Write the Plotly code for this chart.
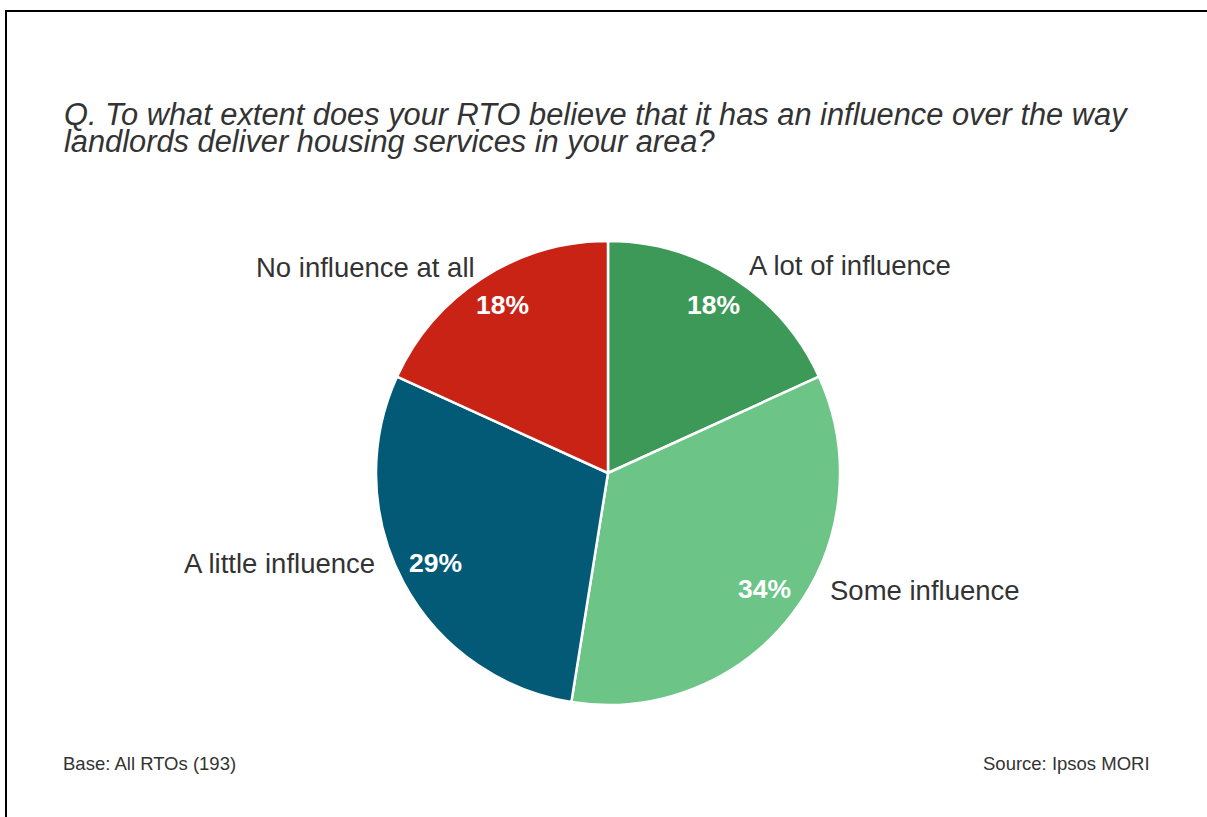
import math
import plotly.graph_objects as go

categories = ["A lot of influence", "Some influence", "A little influence", "No influence at all"]
values = [18, 34, 29, 18]
colors = ["#3d9958", "#6cc487", "#035a77", "#c92316"]

W, H = 1207, 817
title_lines = [
    "Q. To what extent does your RTO believe that it has an influence over the way",
    "landlords deliver housing services in your area?",
]
base_text = "Base: All RTOs (193)"
source_text = "Source: Ipsos MORI"

# pie geometry (pixels)
cx, cy, R = 608, 473, 232

FONT = "Liberation Sans, Arial, sans-serif"

def px(x):
    return x / W

def py(y):
    return 1 - y / H

fig = go.Figure()
fig.add_trace(go.Pie(
    labels=categories,
    values=values,
    sort=False,
    direction="clockwise",
    rotation=0,
    marker=dict(colors=colors, line=dict(color="white", width=2.5)),
    textinfo="none",
    hoverinfo="label+value",
    showlegend=False,
    domain=dict(x=[px(cx - R), px(cx + R)], y=[py(cy + R), py(cy - R)]),
))

annotations = []
# percentage labels placed at mid-angle of each slice
total = sum(values)
cum = 0
for v in values:
    mid = (cum + v / 2) / total * 2 * math.pi
    cum += v
    r = 0.845 * R
    x = cx + r * math.sin(mid)
    y = cy - r * math.cos(mid) - 3
    annotations.append(dict(
        x=px(x), y=py(y), xref="paper", yref="paper",
        text=f"<b>{round(v / total * 100)}%</b>", showarrow=False,
        font=dict(family=FONT, size=26.5, color="white"),
        xanchor="center", yanchor="middle",
    ))

# category labels
label_pos = [(747, 265, "left"), (828, 590, "left"), (377, 563, "right"), (477, 267, "right")]
for name, (x, y, anc) in zip(categories, label_pos):
    annotations.append(dict(
        x=px(x), y=py(y), xref="paper", yref="paper", text=name, showarrow=False,
        font=dict(family=FONT, size=27.5, color="#333333"),
        xanchor=anc, yanchor="middle",
    ))

# title lines
for i, line in enumerate(title_lines):
    annotations.append(dict(
        x=px(62), y=py(114 + 28 * i), xref="paper", yref="paper",
        text=f"<i>{line}</i>", showarrow=False,
        font=dict(family=FONT, size=30.8, color="#333333"),
        xanchor="left", yanchor="middle",
    ))

annotations.append(dict(
    x=px(61), y=py(763), xref="paper", yref="paper", text=base_text, showarrow=False,
    font=dict(family=FONT, size=18.5, color="#333333"),
    xanchor="left", yanchor="middle",
))
annotations.append(dict(
    x=px(1152), y=py(763), xref="paper", yref="paper", text=source_text, showarrow=False,
    font=dict(family=FONT, size=18.5, color="#333333"),
    xanchor="right", yanchor="middle",
))

fig.update_layout(
    width=W, height=H,
    margin=dict(l=0, r=0, t=0, b=0),
    paper_bgcolor="white", plot_bgcolor="white",
    annotations=annotations,
    shapes=[dict(
        type="rect", xref="paper", yref="paper",
        x0=px(6), x1=1.05, y0=-0.05, y1=py(11),
        line=dict(color="black", width=2), fillcolor="rgba(0,0,0,0)",
    )],
)

fig.write_html(
    "out.html",
    config={"displayModeBar": False},
    post_script="document.body.style.margin='0';document.body.style.overflow='hidden';",
)
